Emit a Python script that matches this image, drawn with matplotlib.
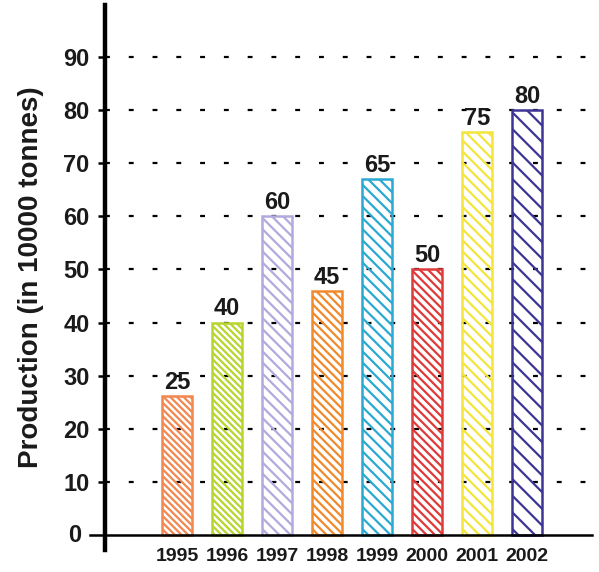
import matplotlib.pyplot as plt
import matplotlib as mpl

# Data
years = ['1995', '1996', '1997', '1998', '1999', '2000', '2001', '2002']
bar_heights = [26.2, 40, 60, 45.9, 67, 50, 75.9, 80]
value_labels = ['25', '40', '60', '45', '65', '50', '75', '80']
bar_colors = ['#f2874f', '#b6d52e', '#b3a9de', '#f08a2c',
              '#2aa9d2', '#df3a3a', '#f3e53c', '#3c3594']
hatch_density = [5, 5, 3, 4, 3, 4, 3, 2]
y_ticks = [10, 20, 30, 40, 50, 60, 70, 80, 90]

mpl.rcParams['font.family'] = ['Liberation Sans', 'DejaVu Sans']
mpl.rcParams['font.weight'] = 'bold'
mpl.rcParams['hatch.linewidth'] = 1.6

fig = plt.figure(figsize=(5.99, 5.72), dpi=100)
ax = fig.add_axes([105 / 599, 22 / 572, 485 / 599, 545 / 572])

x = list(range(len(years)))

# dotted grid lines
for t in y_ticks:
    ax.axhline(t, color='black', lw=1.6, linestyle=(0, (2.2, 8.5)), zorder=1)

for i in x:
    ax.bar(i, bar_heights[i], width=0.6, facecolor='none',
           edgecolor=bar_colors[i], hatch='\\' * hatch_density[i],
           linewidth=1.8, zorder=2)
    ax.text(i, bar_heights[i] + 0.4, value_labels[i], ha='center', va='bottom',
            fontsize=17, fontweight='bold', color='#1a1a1a')

# zero baseline extending left of the axis
ax.plot([-1.74, 8.3], [0, 0], color='black', lw=1.8, clip_on=False, zorder=3)
ax.text(-1.92, 0, '0', ha='right', va='center', fontsize=17,
        fontweight='bold', color='#1a1a1a')

ax.set_xlim(-1.44, 8.26)
ax.set_ylim(-2.82, 99.8)

for s in ['top', 'right', 'bottom']:
    ax.spines[s].set_visible(False)
ax.spines['left'].set_linewidth(3.2)
ax.spines['left'].set_color('black')

ax.set_yticks(y_ticks)
ax.set_yticklabels([str(t) for t in y_ticks], fontsize=17, fontweight='bold',
                   color='#1a1a1a')
ax.tick_params(axis='y', length=5, width=1.8, pad=6, direction='out')

ax.set_xticks(x)
ax.set_xticklabels(years, fontsize=14, fontweight='bold', color='#1a1a1a')
ax.tick_params(axis='x', length=0, pad=-1.5)

ax.set_ylabel('Production (in 10000 tonnes)', fontsize=20, fontweight='bold',
              color='#1a1a1a', labelpad=14)

fig.savefig('out.png', dpi=100)
